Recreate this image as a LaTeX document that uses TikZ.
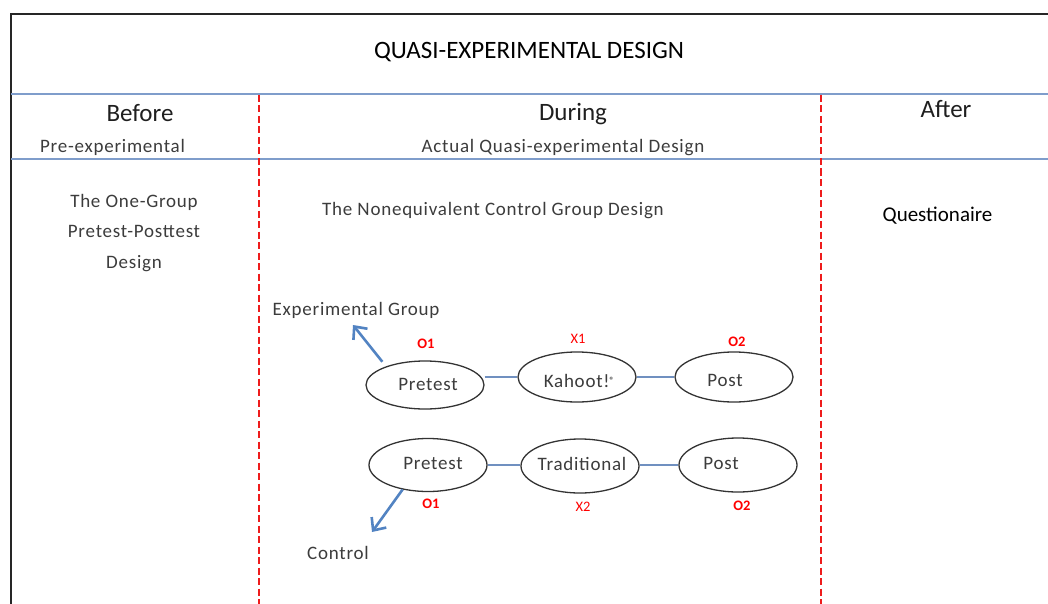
\documentclass[tikz,border=0pt]{standalone}
\usepackage{fontspec}
\setmainfont{Carlito}
\newfontfamily\spacedfont[LetterSpace=4]{Carlito}
\usetikzlibrary{shapes.geometric,arrows.meta}
\definecolor{hdrblue}{HTML}{7F9DCB}
\definecolor{linkblue}{HTML}{7090C0}
\definecolor{arrblue}{HTML}{5283C2}
\definecolor{dashred}{HTML}{EE1C1C}
\definecolor{graytext}{HTML}{3C3C3C}
\tikzset{
  titletext/.style={font=\fontsize{25}{30}\selectfont, text=black, anchor=base, inner sep=0},
  hdr/.style={font=\fontsize{25}{30}\selectfont, text=black!88, anchor=base, inner sep=0},
  sub/.style={font=\spacedfont\fontsize{19}{23}\selectfont, text=graytext, anchor=base, inner sep=0},
  plaintext/.style={font=\fontsize{21}{25}\selectfont, text=black, anchor=base, inner sep=0},
  stage/.style={ellipse, draw=black!80, line width=1.3pt, fill=white, minimum width=118pt, minimum height=50pt, inner sep=0},
  obs/.style={font=\bfseries\fontsize{14.5}{16}\selectfont, text=red, inner sep=0},
  treat/.style={font=\fontsize{14.5}{16}\selectfont, text=red, inner sep=0},
  link/.style={draw=linkblue, line width=1.4pt},
  grp/.style={draw=arrblue, line width=2.6pt, -{Straight Barb[length=10pt,width=18pt]}},
  divider/.style={draw=dashred, line width=1.6pt, dash pattern=on 7pt off 3.5pt},
  frame/.style={draw=black!85, line width=2pt},
  band/.style={draw=hdrblue, line width=2pt}
}
\begin{document}
\begin{tikzpicture}[x=1pt,y=-1pt]
\useasboundingbox (0,0) rectangle (1048,604);
% frame and table lines
\draw[frame] (11,604) -- (11,14) -- (1048,14);
\draw[band] (11,94) -- (1048,94);
\draw[band] (11,159) -- (1048,159);
\draw[divider] (259,95) -- (259,604);
\draw[divider] (821,95) -- (821,604);
% header texts
\node[titletext] (title) at (529,59) {QUASI-EXPERIMENTAL DESIGN};
\node[hdr] (before) at (140,122) {Before};
\node[hdr] (during) at (573,121) {During};
\node[hdr] (after) at (946,118) {After};
\node[sub] (preexp) at (112.5,153) {Pre-experimental};
\node[sub] (actual) at (563,153) {Actual Quasi-experimental Design};
% before column
\node[sub] (onea) at (134,207) {The One-Group};
\node[sub] (oneb) at (134,237) {Pretest-Posttest};
\node[sub] (onec) at (134,268) {Design};
% during column
\node[sub] (noneq) at (493,215) {The Nonequivalent Control Group Design};
\node[sub] (expg) at (356,315) {Experimental Group};
\node[sub] (ctrl) at (338,559) {Control};
% after column
\node[plaintext] (quest) at (937.5,221) {Questionaire};
% stages
\node[stage, minimum height=48pt] (pre1) at (425,385) {};
\node[stage] (kah) at (577,377) {};
\node[stage] (post1) at (734,377) {};
\node[stage, minimum height=53pt] (pre2) at (428,465) {};
\node[stage, minimum height=54pt] (trad) at (580,466) {};
\node[stage, minimum height=54pt] (post2) at (738,465) {};
\node[sub] (pre1t) at (428,390) {Pretest};
\node[sub] (kaht) at (579,387) {Kahoot!\raisebox{4pt}{\bfseries\fontsize{9}{9}\selectfont ®}};
\node[sub] (post1t) at (725,386) {Post};
\node[sub] (pre2t) at (433,469) {Pretest};
\node[sub] (tradt) at (582,470) {Traditional};
\node[sub] (post2t) at (721,469) {Post};
% observation labels
\node[obs] (o1a) at (426,344) {O1};
\node[treat] (x1) at (578,339) {X1};
\node[obs] (o2a) at (737,342) {O2};
\node[obs] (o1b) at (431,504) {O1};
\node[treat] (x2) at (583,507) {X2};
\node[obs] (o2b) at (742,506) {O2};
% connectors
\draw[link] (pre1.east |- kah.west) -- (kah.west);
\draw[link] (kah.east) -- (post1.west);
\draw[link] (pre2.east) -- (pre2.east -| trad.west);
\draw[link] (trad.east |- post2.west) -- (post2.west);
% group arrows
\coordinate (expTip) at (353,325);
\coordinate (ctrlTip) at (372,532);
\draw[grp] ([yshift=6pt]pre1.158) -- (expTip);
\draw[grp] (pre2.224) -- (ctrlTip);
\end{tikzpicture}
\end{document}
